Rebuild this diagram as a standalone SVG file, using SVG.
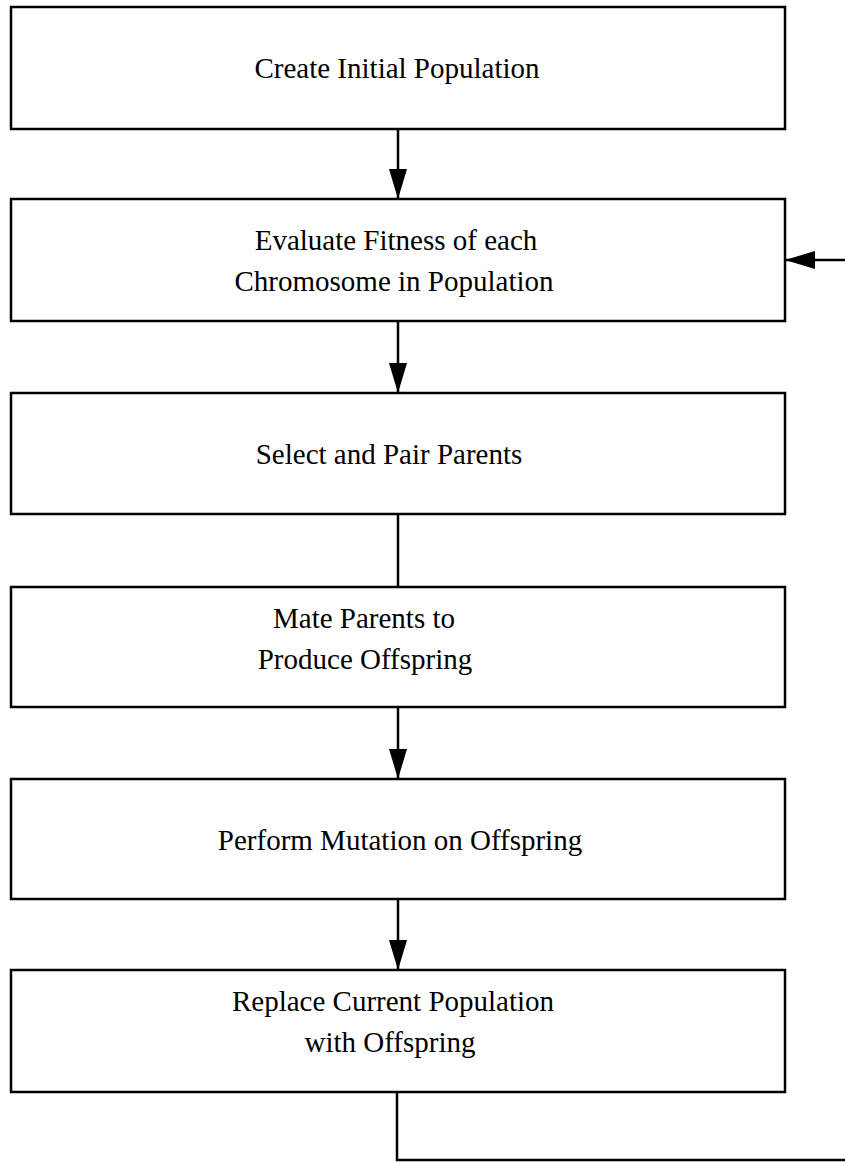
<svg xmlns="http://www.w3.org/2000/svg" width="845" height="1163" viewBox="0 0 845 1163">
<style>
.box{fill:#fff;stroke:#000;stroke-width:2.5}
.t{font-family:"Liberation Serif","Times New Roman",serif;font-size:29px;fill:#000;text-anchor:middle}
.c{fill:none;stroke:#000;stroke-width:2.5}
</style>
<defs>
<marker id="ah" markerWidth="30" markerHeight="18" refX="30" refY="9" orient="auto" markerUnits="userSpaceOnUse">
<path d="M0,0 L30,9 L0,18 Z" fill="#000"/>
</marker>
</defs>
<rect width="845" height="1163" fill="#fff"/>
<g id="n1"><rect class="box" x="11" y="7" width="774" height="122"/><text class="t" x="397" y="78">Create Initial Population</text></g>
<g id="n2"><rect class="box" x="11" y="199" width="774" height="122"/><text class="t" x="396" y="250">Evaluate Fitness of each</text><text class="t" x="394" y="291">Chromosome in Population</text></g>
<g id="n3"><rect class="box" x="11" y="393" width="774" height="121"/><text class="t" x="389" y="464">Select and Pair Parents</text></g>
<g id="n4"><rect class="box" x="11" y="587" width="774" height="120"/><text class="t" x="364" y="628">Mate Parents to</text><text class="t" x="365" y="669">Produce Offspring</text></g>
<g id="n5"><rect class="box" x="11" y="779" width="774" height="120"/><text class="t" x="400" y="850">Perform Mutation on Offspring</text></g>
<g id="n6"><rect class="box" x="11" y="970" width="774" height="122"/><text class="t" x="393" y="1011">Replace Current Population</text><text class="t" x="390" y="1052">with Offspring</text></g>
<g id="connectors">
<line class="c" x1="398" y1="129" x2="398" y2="199" marker-end="url(#ah)"/>
<line class="c" x1="398" y1="321" x2="398" y2="393" marker-end="url(#ah)"/>
<line class="c" x1="398" y1="514" x2="398" y2="587"/>
<line class="c" x1="398" y1="707" x2="398" y2="779" marker-end="url(#ah)"/>
<line class="c" x1="398" y1="899" x2="398" y2="970" marker-end="url(#ah)"/>
<polyline class="c" points="397,1092 397,1160 845,1160"/>
<line class="c" x1="845" y1="260" x2="785" y2="260" marker-end="url(#ah)"/>
</g>
</svg>
